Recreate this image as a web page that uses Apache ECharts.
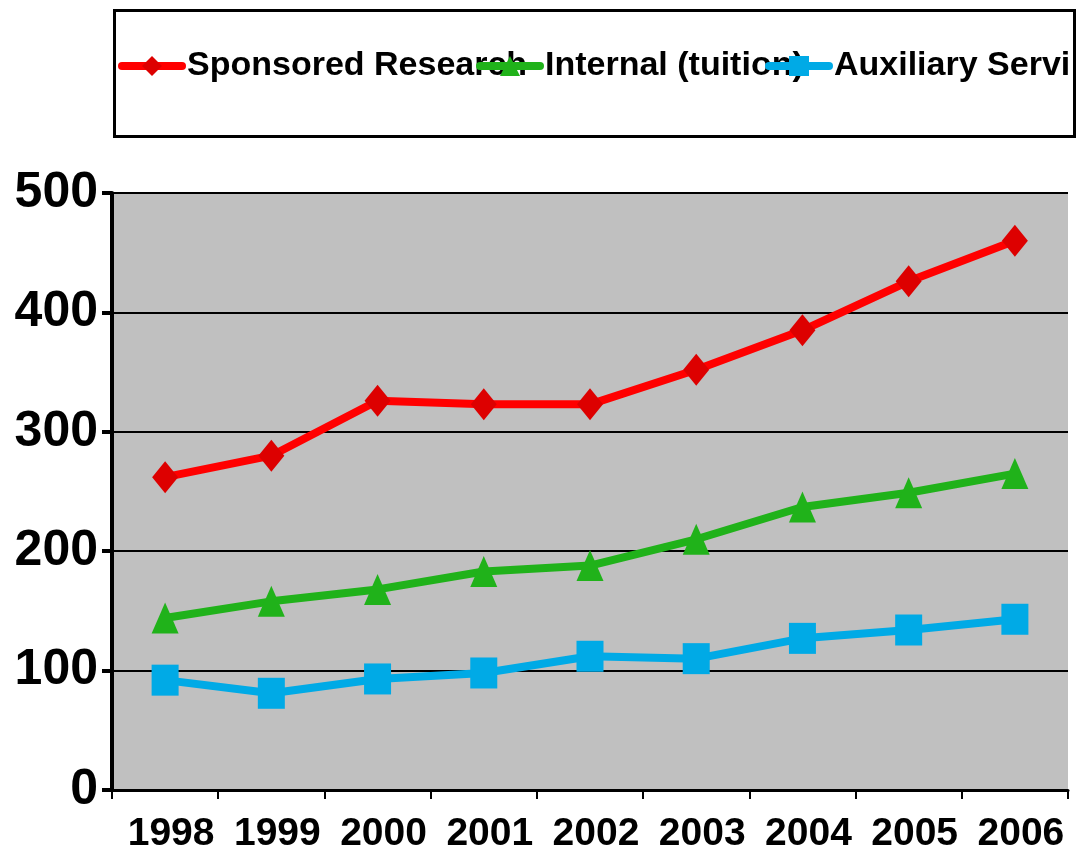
<!DOCTYPE html>
<html>
<head>
<meta charset="utf-8">
<script src="https://cdn.jsdelivr.net/npm/echarts@6/dist/echarts.min.js"></script>
<style>html,body{margin:0;padding:0;background:#fff}#c{width:1090px;height:852px}</style>
</head>
<body>
<div id="c"></div>
<script>
const years = ['1998','1999','2000','2001','2002','2003','2004','2005','2006'];
const sponsoredResearch = [262, 280, 326, 323, 323, 352, 385, 426, 460];
const internalTuition = [144, 158, 168, 183, 188, 210, 237, 249, 265];
const auxiliaryServices = [92, 81, 93, 98, 112, 110, 127, 134, 143];
const seriesNames = ['Sponsored Research', 'Internal (tuition)', 'Auxiliary Services'];

const FONT = "'Liberation Sans', Arial, sans-serif";
const chart = echarts.init(document.getElementById('c'), null, {renderer: 'canvas'});

function legendAt(name, left, truncW) {
  const ts = {fontFamily: FONT, fontWeight: 'bold', fontSize: 34, color: '#000'};
  if (truncW) { ts.width = truncW; ts.overflow = 'truncate'; ts.ellipsis = ''; }
  return {
    data: [name], left: left, top: 49, orient: 'horizontal',
    itemWidth: 60, itemHeight: 25, padding: 0, itemGap: 0,
    textStyle: ts,
    lineStyle: {width: 8, cap: 'round'},
    selectedMode: false
  };
}

chart.setOption({
  backgroundColor: '#fff',
  animation: false,
  graphic: [{
    type: 'rect', left: 113, top: 9, z: -1,
    shape: {width: 960, height: 126},
    style: {fill: '#fff', stroke: '#000', lineWidth: 3}
  }],
  legend: [
    legendAt(seriesNames[0], 118),
    legendAt(seriesNames[1], 476),
    legendAt(seriesNames[2], 765, 245)
  ],
  grid: {
    left: 112, top: 193, right: 22, bottom: 62,
    show: true, backgroundColor: '#C0C0C0', borderWidth: 0,
    outerBoundsMode: 'none', containLabel: false
  },
  xAxis: {
    type: 'category', data: years, boundaryGap: true,
    axisLine: {lineStyle: {color: '#000', width: 3}},
    axisTick: {show: true, alignWithLabel: false, length: 9, lineStyle: {color: '#000', width: 2}},
    axisLabel: {fontFamily: FONT, fontWeight: 'bold', fontSize: 39, color: '#000', margin: 25, interval: 0, padding: [0, 0, 0, 12]},
    splitLine: {show: false}
  },
  yAxis: {
    type: 'value', min: 0, max: 500, interval: 100,
    axisLine: {show: true, lineStyle: {color: '#000', width: 4}},
    axisTick: {show: true, length: 10, lineStyle: {color: '#000', width: 4}},
    axisLabel: {fontFamily: FONT, fontWeight: 'bold', fontSize: 50, color: '#000', margin: 14},
    splitLine: {show: true, lineStyle: {color: '#000', width: 2}}
  },
  series: [
    {
      name: seriesNames[0], type: 'line', data: sponsoredResearch,
      symbol: 'diamond', symbolSize: [26, 32],
      lineStyle: {color: '#FF0000', width: 8},
      itemStyle: {color: '#DD0000'}
    },
    {
      name: seriesNames[1], type: 'line', data: internalTuition,
      symbol: 'triangle', symbolSize: [27, 31],
      lineStyle: {color: '#20B21A', width: 8},
      itemStyle: {color: '#20B21A'}
    },
    {
      name: seriesNames[2], type: 'line', data: auxiliaryServices,
      symbol: 'rect', symbolSize: [27, 31],
      lineStyle: {color: '#00AAE6', width: 8},
      itemStyle: {color: '#00AAE6'}
    }
  ]
});
</script>
</body>
</html>
